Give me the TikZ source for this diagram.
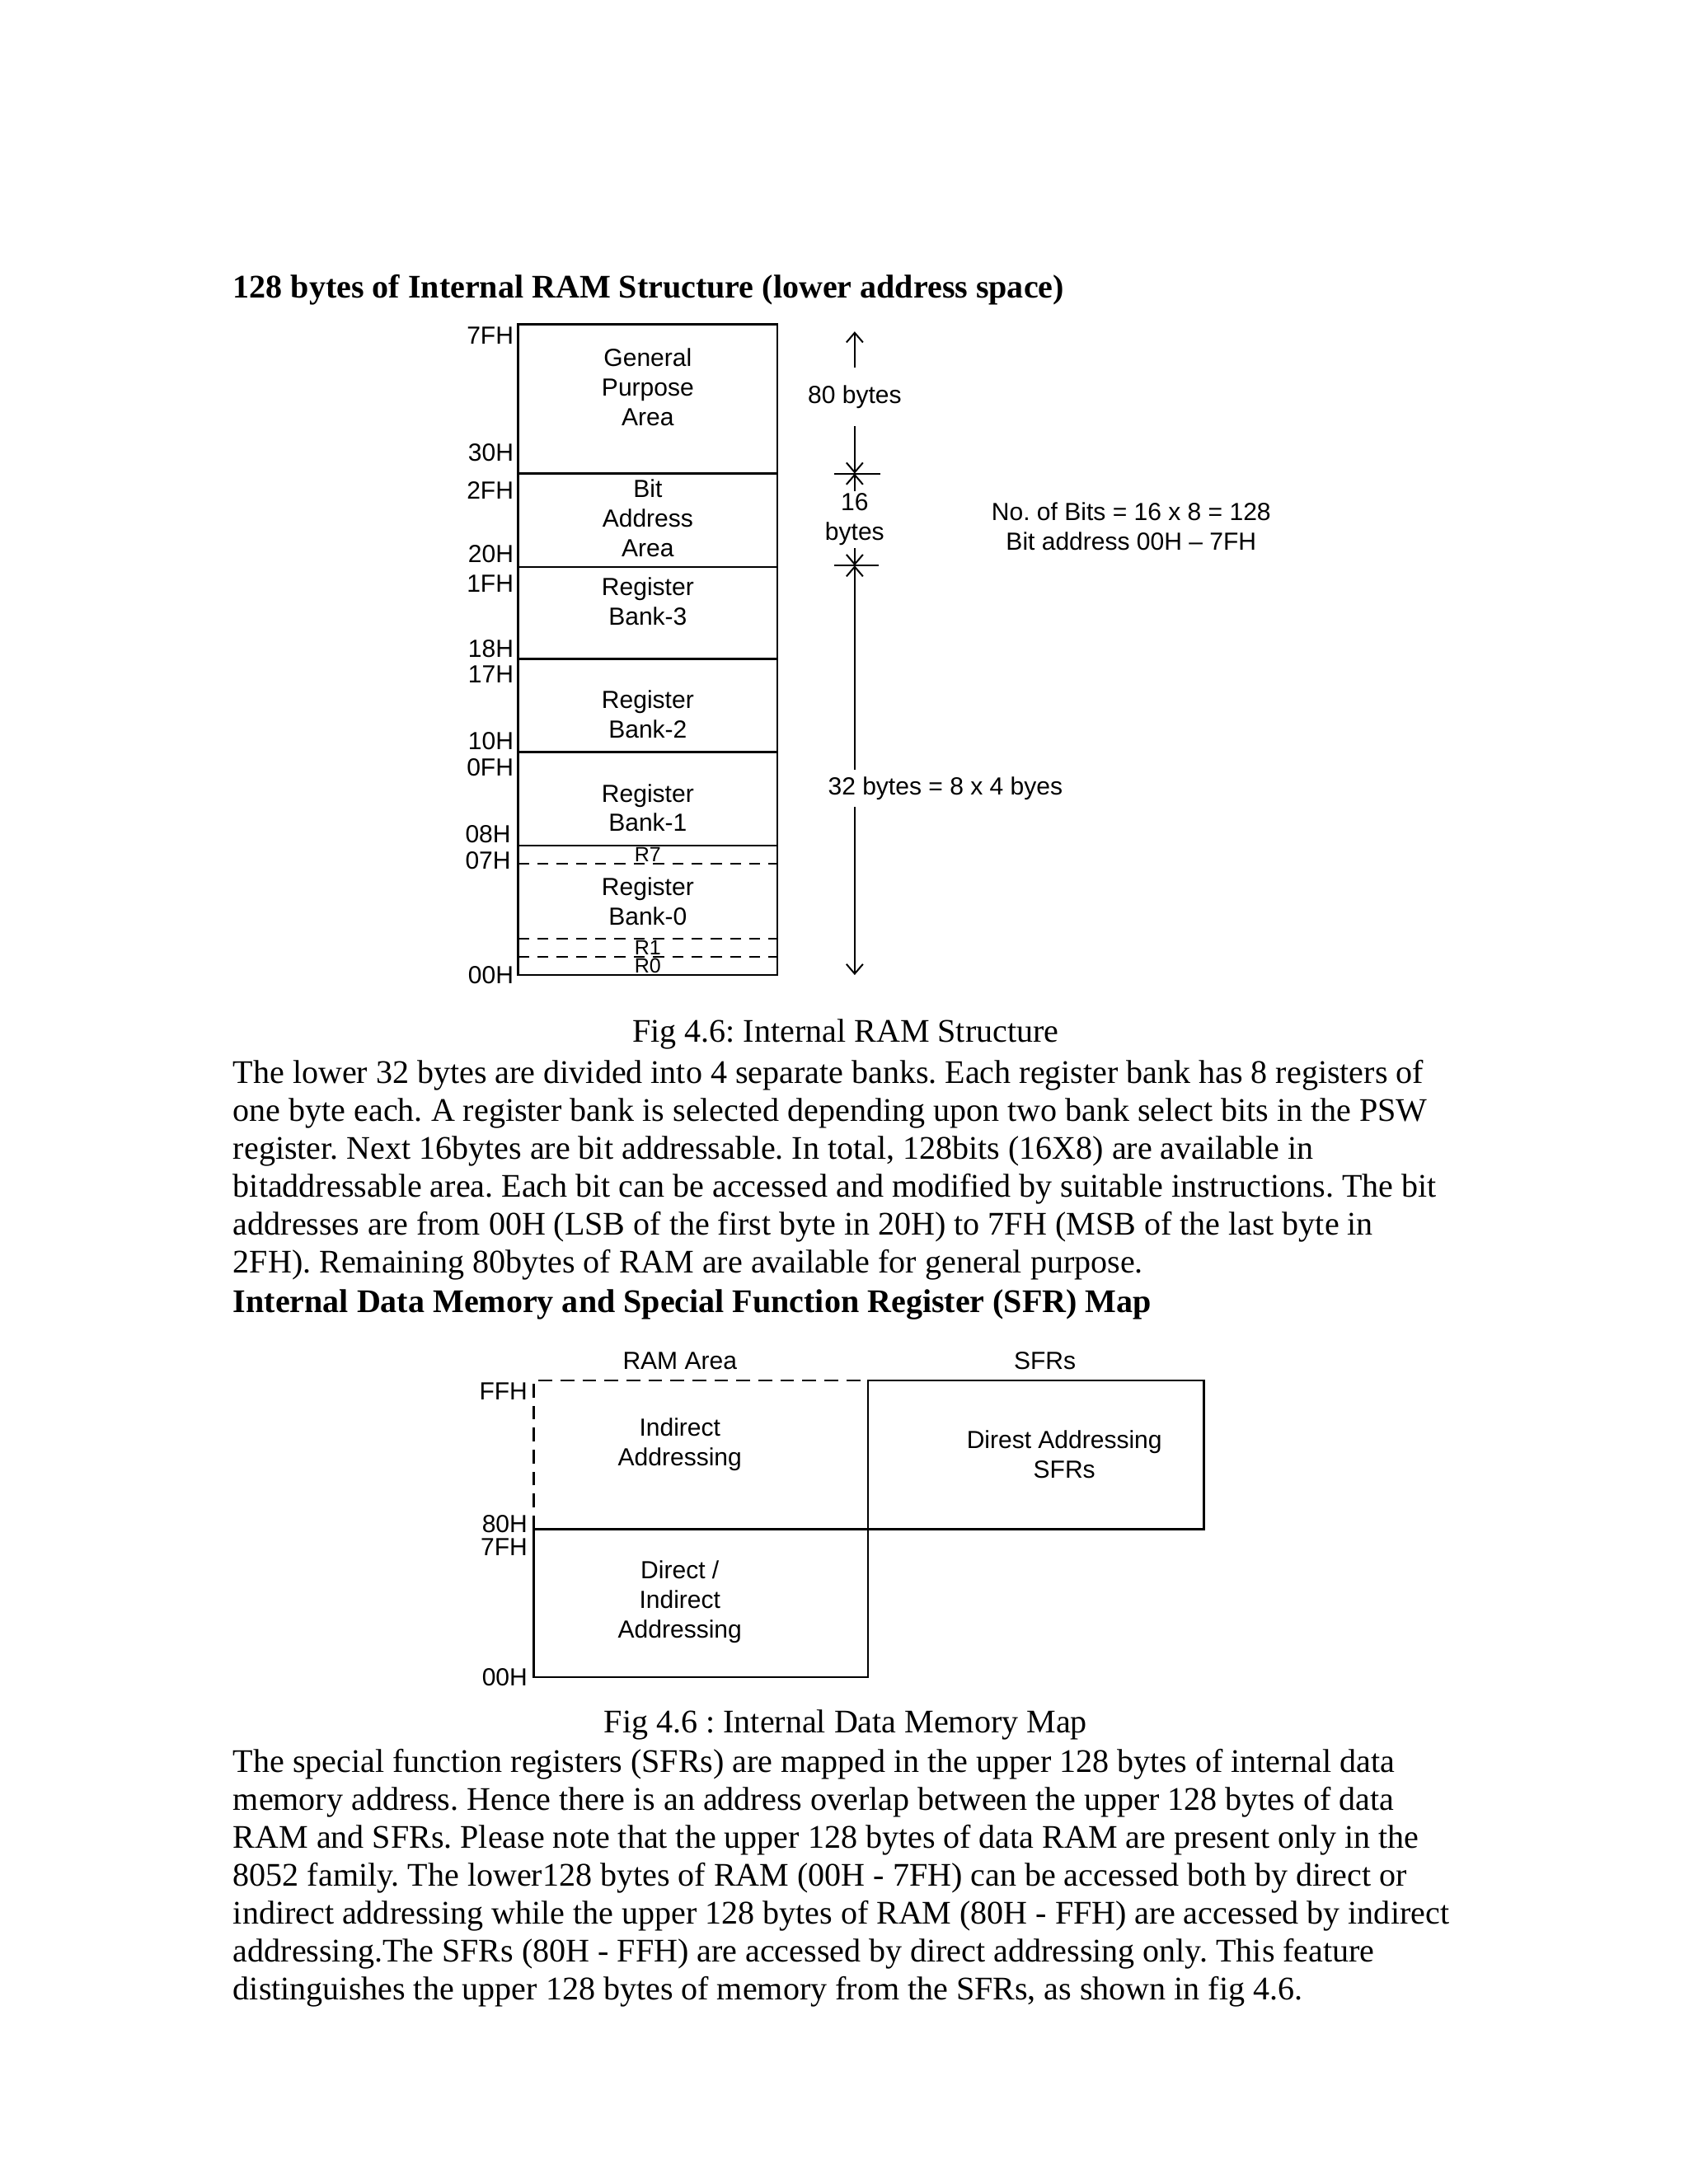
\documentclass[tikz,border=0pt]{standalone}
\usepackage{fontspec}
\setmainfont{Liberation Serif}
\newfontfamily\diagsans{Liberation Sans}
\newcommand{\diagfont}{\fontsize{9}{10.7}\selectfont\diagsans}
\newcommand{\regfont}{\fontsize{7.5}{8}\selectfont\diagsans}
\newcommand{\bodyfont}{\fontsize{12}{13.8}\selectfont}
\frenchspacing
\usetikzlibrary{arrows.meta}

\begin{document}
\begin{tikzpicture}[
    x=0.017814cm, y=-0.017814cm,
    every node/.style={inner sep=0pt},
    caja/.style={line width=0.8pt},
    linea/.style={line width=0.8pt, dash pattern=on 4pt off 3pt},
    linea2/.style={line width=0.8pt, dash pattern=on 5pt off 3pt},
    dir/.style={anchor=east, font=\diagfont},
    rotulo/.style={font=\diagfont, align=center},
    reg/.style={font=\regfont, fill=white},
    texto/.style={anchor=base west, font=\bodyfont},
    titulo/.style={anchor=base west, font=\bodyfont\bfseries},
    pie/.style={anchor=base, font=\bodyfont},
    cota/.style={line width=0.6pt,
        {Straight Barb[length=3.5pt,width=6pt]}-{Straight Barb[length=3.5pt,width=6pt]}}
]
\useasboundingbox (0,0) rectangle (1212,1568);

% Primer titulo
\node[titulo] (tit1) at (167,214)
    {128 bytes of Internal RAM Structure (lower address space)};

% Mapa de la RAM interna (parte baja)
\draw[caja] (372,233) rectangle (558,700);
\draw[caja] (372,340) -- (558,340);
\draw[caja] (372,407) -- (558,407);
\draw[caja] (372,473) -- (558,473);
\draw[caja] (372,540) -- (558,540);
\draw[caja] (372,607) -- (558,607);
\draw[linea] (372,620) -- (558,620);
\draw[linea] (372,674) -- (558,674);
\draw[linea] (372,687) -- (558,687);

% Direcciones a la izquierda
\node[dir] (a7F) at (369,241) {7FH};
\node[dir] (a30) at (369,325) {30H};
\node[dir] (a2F) at (369,352) {2FH};
\node[dir] (a20) at (369,398) {20H};
\node[dir] (a1F) at (369,419) {1FH};
\node[dir] (a18) at (369,466) {18H};
\node[dir] (a17) at (369,484) {17H};
\node[dir] (a10) at (369,532) {10H};
\node[dir] (a0F) at (369,551) {0FH};
\node[dir] (a08) at (367,599) {08H};
\node[dir] (a07) at (367,618) {07H};
\node[dir] (a00) at (369,700) {00H};

% Zonas
\node[rotulo] (gpa) at (465,278) {General\\Purpose\\Area};
\node[rotulo] (bita) at (465,372) {Bit\\Address\\Area};
\node[rotulo] (bank3) at (465,432) {Register\\Bank-3};
\node[rotulo] (bank2) at (465,513) {Register\\Bank-2};
\node[rotulo] (bank1) at (465,580) {Register\\Bank-1};
\node[rotulo] (bank0) at (465,647) {Register\\Bank-0};
\node[reg] (r7) at (465,613.5) {R7};
\node[reg] (r1) at (465,680.5) {R1};
\node[reg] (r0) at (465,693.5) {R0};

% Cotas de la derecha
\coordinate (c80) at (613.5,238);
\coordinate (t1) at (613.5,340);
\coordinate (t2) at (613.5,406);
\coordinate (c32) at (613.5,700);
\draw[cota] (c80) -- node[pos=0.46, fill=white, inner ysep=6.5pt, font=\diagfont] (b80) {80 bytes} (t1);
\draw[cota] (t1) -- node[fill=white, inner ysep=1pt, rotulo] (b16) {16\\bytes} (t2);
\draw[cota] (t2) -- (c32);
\draw[line width=0.6pt] (599,340) -- (632,340);
\draw[line width=0.6pt] (599,406) -- (631,406);
\node[fill=white, inner ysep=2.5pt, anchor=west, font=\diagfont] (b32) at (594,566)
    {32 bytes = 8 x 4 byes};

\node[rotulo] (bits) at (812,378) {No. of Bits = 16 x 8 = 128\\Bit address 00H – 7FH};

% Pie y parrafo
\node[pie] (fig1) at (607,748) {Fig 4.6: Internal RAM Structure};
\node[texto] (parA1) at (167,777.5)
    {The lower 32 bytes are divided into 4 separate banks. Each register bank has 8 registers of};
\node[texto] (parA2) at (167,804.8)
    {one byte each. A register bank is selected depending upon two bank select bits in the PSW};
\node[texto] (parA3) at (167,832)
    {register. Next 16bytes are bit addressable. In total, 128bits (16X8) are available in};
\node[texto] (parA4) at (167,859.3)
    {bitaddressable area. Each bit can be accessed and modified by suitable instructions. The bit};
\node[texto] (parA5) at (167,886.5)
    {addresses are from 00H (LSB of the first byte in 20H) to 7FH (MSB of the last byte in};
\node[texto] (parA6) at (167,913.8)
    {2FH). Remaining 80bytes of RAM are available for general purpose.};

% Segundo titulo
\node[titulo] (tit2) at (167,942)
    {Internal Data Memory and Special Function Register (SFR) Map};

% Mapa de memoria de datos y SFR
\node[rotulo] (ram) at (488,977) {RAM Area};
\node[rotulo] (sfr) at (750,977) {SFRs};
\draw[linea2] (383,1098) -- (383,991) -- (623,991);
\draw[caja] (383,1098) rectangle (623,1204);
\draw[caja] (623,991) rectangle (864,1098);

\node[dir] (bFF) at (379,999) {FFH};
\node[dir] (b80h) at (379,1094) {80H};
\node[dir] (b7F) at (379,1111) {7FH};
\node[dir] (b00) at (379,1204) {00H};

\node[rotulo] (ind) at (488,1037) {Indirect\\Addressing};
\node[rotulo] (dsfr) at (764,1044) {Direst Addressing\\SFRs};
\node[rotulo] (dind) at (488,1150) {Direct /\\Indirect\\Addressing};

% Pie y parrafo final
\node[pie] (fig2) at (607,1244) {Fig 4.6 : Internal Data Memory Map};
\node[texto] (parB1) at (167,1272.5)
    {The special function registers (SFRs) are mapped in the upper 128 bytes of internal data};
\node[texto] (parB2) at (167,1299.8)
    {memory address. Hence there is an address overlap between the upper 128 bytes of data};
\node[texto] (parB3) at (167,1327)
    {RAM and SFRs. Please note that the upper 128 bytes of data RAM are present only in the};
\node[texto] (parB4) at (167,1354.3)
    {8052 family. The lower128 bytes of RAM (00H - 7FH) can be accessed both by direct or};
\node[texto] (parB5) at (167,1381.5)
    {indirect addressing while the upper 128 bytes of RAM (80H - FFH) are accessed by indirect};
\node[texto] (parB6) at (167,1408.8)
    {addressing.The SFRs (80H - FFH) are accessed by direct addressing only. This feature};
\node[texto] (parB7) at (167,1436)
    {distinguishes the upper 128 bytes of memory from the SFRs, as shown in fig 4.6.};

\end{tikzpicture}
\end{document}
